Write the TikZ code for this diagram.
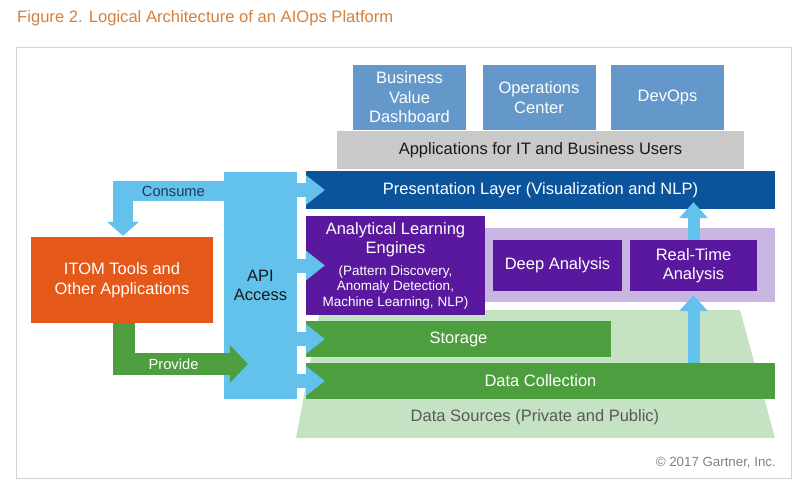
\documentclass[tikz,border=0pt]{standalone}
\usepackage{fontspec}
\setmainfont{Liberation Sans}
\usetikzlibrary{arrows.meta}

\definecolor{gtitle}{RGB}{214,128,58}
\definecolor{gsteel}{RGB}{101,152,202}
\definecolor{ggray}{RGB}{201,201,201}
\definecolor{gnavy}{RGB}{11,84,156}
\definecolor{gpurple}{RGB}{90,24,158}
\definecolor{glav}{RGB}{201,181,226}
\definecolor{ggreen}{RGB}{76,158,62}
\definecolor{gmint}{RGB}{197,226,195}
\definecolor{gsky}{RGB}{99,194,236}
\definecolor{gorange}{RGB}{228,88,26}
\definecolor{gframe}{RGB}{210,210,210}
\definecolor{gink}{RGB}{31,56,90}

\newcommand{\boxfont}{\fontsize{16.5}{19.5}\selectfont}
\newcommand{\notefont}{\fontsize{13.5}{15}\selectfont}
\newcommand{\flowfont}{\fontsize{14.7}{17}\selectfont}

\begin{document}
\begin{tikzpicture}[x=1pt, y=-1pt,
  block/.style={inner sep=0pt, align=center, font=\boxfont, text=white},
  userbox/.style={block, fill=gsteel, minimum width=113pt, minimum height=65pt},
  layer/.style={block, minimum height=37pt},
  flowlbl/.style={font=\flowfont, inner sep=0pt},
  apiarrow/.style={draw=gsky, line width=14pt,
                   -{Triangle[width=30pt, length=19pt, line width=0pt]}},
  uparrow/.style={draw=gsky, line width=12pt,
                  -{Triangle[width=29pt, length=16pt, line width=0pt]}},
]
  \useasboundingbox (0,0) rectangle (803,489);

  % frame and title
  \draw[gframe, line width=1pt] (16,48) rectangle (791,478);
  \node[anchor=west, inner sep=0pt, text=gtitle, font=\fontsize{16.6}{20}\selectfont]
    (title) at (17,18) {Figure 2. Logical Architecture of an AIOps Platform};

  % data sources
  \fill[gmint] (320,310) -- (740,310) -- (775,438) -- (296,438) -- cycle;
  \node[font=\boxfont, text=black!65, inner sep=0pt] (src) at (535,417)
    {Data Sources (Private and Public)};

  % users and applications
  \node[userbox] (bvd) at (409.5,97.5) {Business\\Value\\Dashboard};
  \node[userbox] (ops) at (539,97.5) {Operations\\Center};
  \node[userbox] (dev) at (667.5,97.5) {DevOps};
  \node[layer, fill=ggray, text=black!90, minimum width=407pt, minimum height=38pt]
    (apps) at (540.5,150) {Applications for IT and Business Users};

  % platform layers
  \node[layer, fill=gnavy, minimum width=469pt, minimum height=38pt]
    (pres) at (540.5,190) {Presentation Layer (Visualization and NLP)};
  \fill[glav] (480,228) rectangle (775,302);
  \node[block, fill=gpurple, minimum width=179pt, minimum height=99pt]
    (ale) at (395.5,265.5) {Analytical Learning\\Engines\\[2pt]
    \notefont (Pattern Discovery,\\[-4pt]\notefont Anomaly Detection,\\[-4pt]
    \notefont Machine Learning, NLP)};
  \node[block, fill=gpurple, minimum width=129pt, minimum height=51pt]
    (deep) at (557.5,265.5) {Deep Analysis};
  \node[block, fill=gpurple, minimum width=127pt, minimum height=51pt]
    (rt) at (693.5,265.5) {Real-Time\\Analysis};
  \node[layer, fill=ggreen, minimum width=305pt, minimum height=36pt]
    (stor) at (458.5,339) {Storage};
  \node[layer, fill=ggreen, minimum width=469pt, minimum height=36pt]
    (dc) at (540.5,381) {Data Collection};

  % api and tools
  \node[block, fill=gsky, text=black!90, minimum width=73pt, minimum height=227pt]
    (api) at (260.5,285.5) {API\\Access};
  \node[block, fill=gorange, minimum width=182pt, minimum height=86pt]
    (itom) at (122,280) {ITOM Tools and\\Other Applications};

  % consume / provide
  \coordinate (cturn) at (123,191);
  \draw[gsky, line width=20pt, line join=miter,
        -{Triangle[width=32pt, length=14pt, line width=0pt]}]
    (api.west |- cturn) -- node[flowlbl, text=gink] {Consume} (cturn)
    -- ([yshift=1pt]cturn |- itom.north);
  \coordinate (pturn) at (124,364);
  \draw[ggreen, line width=22pt, line join=miter,
        -{Triangle[width=38pt, length=18pt, line width=0pt]}]
    (pturn |- itom.south) -- (pturn)
    -- node[flowlbl, text=white, pos=0.4] {Provide} ([xshift=24pt]api.west |- pturn);

  % api to layers
  \foreach \lay in {pres, ale, stor, dc}
    \draw[apiarrow] (api.east |- \lay.west) -- ([xshift=19pt]\lay.west);

  % data up to presentation
  \draw[uparrow] (rt.south |- dc.north) -- ([yshift=-4pt]rt.south);
  \draw[uparrow] (rt.north) -- ([yshift=7pt]rt.north |- pres.south);

  \node[anchor=east, inner sep=0pt, text=black!50, font=\fontsize{13.3}{16}\selectfont]
    (copy) at (776,463) {© 2017 Gartner, Inc.};
\end{tikzpicture}
\end{document}
